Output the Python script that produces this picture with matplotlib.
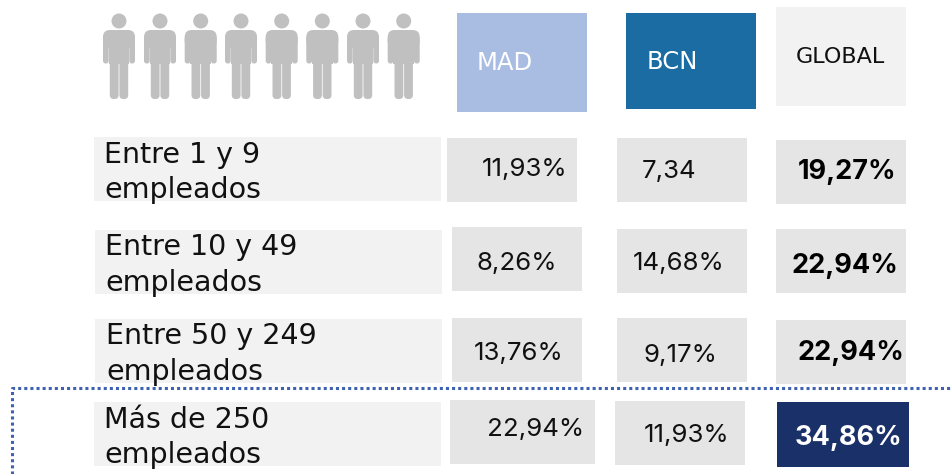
import matplotlib
matplotlib.use('Agg')
import matplotlib.pyplot as plt
from matplotlib.patches import Rectangle, Circle, FancyBboxPatch

plt.rcParams['font.family'] = ['Inter', 'DejaVu Sans']

headers = ['MAD', 'BCN', 'GLOBAL']
rows = ['Entre 1 y 9\nempleados', 'Entre 10 y 49\nempleados', 'Entre 50 y 249\nempleados', 'Más de 250\nempleados']
mad = ['11,93%', '8,26%', '13,76%', '22,94%']
bcn = ['7,34', '14,68%', '9,17%', '11,93%']
total = ['19,27%', '22,94%', '22,94%', '34,86%']

GREY = '#c0c0c0'
LIGHT = '#f2f2f2'
MID = '#e5e5e5'
NAVY = '#1a3068'

# layout in pixels: x0, x1, y0, y1
label_boxes = [(94, 441, 137, 201), (95, 442, 230, 294), (95, 442, 319, 383), (94, 441, 402, 466)]
mad_boxes = [(447, 577, 138, 202), (452, 582, 227, 291), (452, 582, 318, 382), (450, 595, 400, 464)]
bcn_boxes = [(617, 747, 138, 202), (617, 747, 229, 293), (617, 747, 318, 382), (615, 745, 401, 465)]
total_boxes = [(776, 906, 140, 204), (776, 906, 229, 293), (776, 906, 320, 384), (777, 909, 402, 467)]
header_boxes = [(457, 587, 13, 112, '#a9bce2'), (626, 756, 13, 109, '#1b6ca3'), (776, 906, 7, 106, LIGHT)]
header_text = [(477, 62.5, 'white', 17.5), (647, 62, 'white', 17.5), (796, 57, '#111111', 16)]
label_pos = [(104, 155, 190), (105, 247, 283), (106, 336, 372), (104, 420, 455)]
mad_pos = [(482, 169), (477, 263), (474, 354), (487, 430)]
bcn_pos = [(642, 171), (633, 264), (644, 355), (644, 436)]
total_pos = [(798, 172), (792, 266), (798, 353), (795, 438)]
people_x = [119, 160, 200.7, 241, 281.7, 322.3, 363, 403.7]

fig = plt.figure(figsize=(9.53, 4.74), dpi=100)
ax = fig.add_axes([0, 0, 1, 1])
ax.set_xlim(0, 953)
ax.set_ylim(474, 0)
ax.axis('off')


def box(b, color):
    ax.add_patch(Rectangle((b[0], b[2]), b[1] - b[0], b[3] - b[2], fc=color, ec='none'))


def rounded(x0, y0, w, h, r):
    ax.add_patch(FancyBboxPatch((x0 + r, y0 + r), w - 2 * r, h - 2 * r,
                                boxstyle='round,pad=%f,rounding_size=%f' % (r, r),
                                fc=GREY, ec='none'))


def person(cx):
    ax.add_patch(Circle((cx, 21), 7.5, fc=GREY, ec='none'))
    rounded(cx - 16, 30, 32, 18, 7)
    rounded(cx - 16, 36, 5.7, 27.5, 2.7)
    rounded(cx + 10.3, 36, 5.7, 27.5, 2.7)
    ax.add_patch(Rectangle((cx - 10.3, 36), 20.6, 28, fc=GREY, ec='none'))
    rounded(cx - 9.2, 55, 8.8, 44, 4)
    rounded(cx + 0.4, 55, 8.8, 44, 4)


for x in people_x:
    person(x)

for b, name, t in zip(header_boxes, headers, header_text):
    box(b, b[4])
    ax.text(t[0], t[1], name, color=t[2], fontsize=t[3], family='DejaVu Sans', va='center', ha='left')

for i in range(4):
    box(label_boxes[i], LIGHT)
    box(mad_boxes[i], MID)
    box(bcn_boxes[i], MID)
    box(total_boxes[i], NAVY if i == 3 else MID)
    first, second = rows[i].split('\n')
    ax.text(label_pos[i][0], label_pos[i][1], first, fontsize=20.5, family='DejaVu Sans', color='#111111', va='center')
    ax.text(label_pos[i][0], label_pos[i][2], second, fontsize=20.5, family='DejaVu Sans', color='#111111', va='center')
    ax.text(mad_pos[i][0], mad_pos[i][1], mad[i], fontsize=18.6, color='#111111', va='center')
    ax.text(bcn_pos[i][0], bcn_pos[i][1], bcn[i], fontsize=18.6, color='#111111', va='center')
    ax.text(total_pos[i][0], total_pos[i][1], total[i], fontsize=19.5, fontweight='bold',
            color='white' if i == 3 else 'black', va='center')

# dotted frame round the last row
ax.plot([12, 12, 953], [474, 388, 388], color='#3f62b0', lw=2.2, ls=(0, (1, 1)))

fig.savefig('out.png', dpi=100)
